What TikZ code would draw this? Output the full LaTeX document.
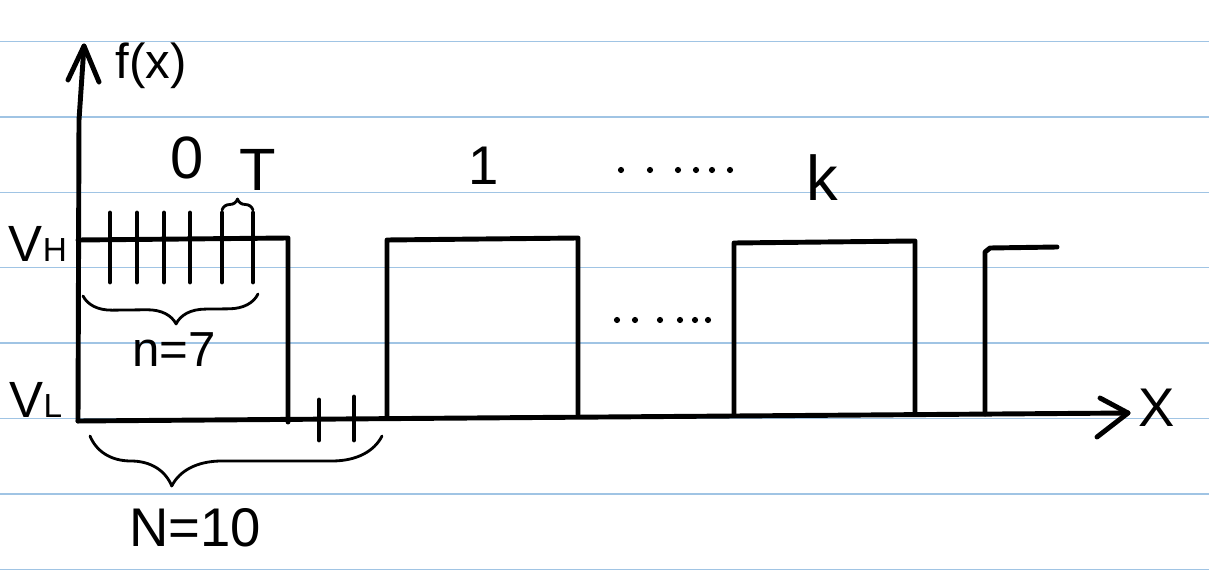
\documentclass[tikz,border=0pt]{standalone}
\usepackage{fontspec}
\setmainfont{Liberation Sans}
\usetikzlibrary{decorations.pathreplacing}
\begin{document}
\begin{tikzpicture}[x=0.02cm,y=-0.02cm,
  pen/.style={line width=2.8pt, line cap=round, line join=round, black},
  thinpen/.style={line width=1.6pt, line cap=round, line join=round, black},
  rule/.style={draw={rgb,255:red,160;green,196;blue,228}, line width=0.7pt},
  lbl/.style={font=\fontsize{31}{31}\selectfont, inner sep=0pt},
  mlbl/.style={font=\fontsize{28}{28}\selectfont, inner sep=0pt},
  dotmark/.style={fill=black, inner sep=0pt, minimum size=3.5pt, circle}]
\useasboundingbox (0,0) rectangle (1209,577);
\fill[white] (0,0) rectangle (1209,577);
\foreach \y in {41.5,116.9,192.3,267.7,343.1,418.5,493.9,569.3}
  \draw[rule] (0,\y) -- (1209,\y);
% axes
\coordinate (O) at (78,421);
\coordinate (ytip) at (84,46);
\coordinate (xtip) at (1128,413);
\draw[pen] (O) -- (79,120) -- (ytip);
\draw[pen] (68,80) -- (ytip) -- (99,82);
\draw[pen] (O) -- (xtip);
\draw[pen] (1100,398) -- (xtip) -- (1097,437);
\node[mlbl, anchor=west] (fx) at (115,66) {f(x)};
\node[lbl, anchor=west] (X) at (1138,408) {X};
\node[lbl, anchor=base, font=\fontsize{29}{29}\selectfont] (VH) at (38,262) {V{\fontsize{19}{19}\selectfont H}};
\node[lbl, anchor=base, font=\fontsize{29}{29}\selectfont] (VL) at (36,417) {V{\fontsize{19}{19}\selectfont L}};
% pulses
\draw[pen] (78,240) -- (288,238) -- (288,422);
\draw[pen] (387,416) -- (387,240) -- (578,238) -- (578,414);
\draw[pen] (734,414) -- (734,243) -- (915,241) -- (915,414);
\draw[pen] (985,414) -- (985,252) -- (990,248) -- (1057,247);
% ticks on pulse 0
\foreach \x in {110,137,164,190,222,253}
  \draw[pen] (\x,213) -- (\x,282);
% ticks in the gap
\draw[pen] (319,400) -- (319,440);
\draw[pen] (354,397) -- (354,440);
% braces
\coordinate (nR) at (258,294);
\coordinate (nL) at (83,296);
\draw[thinpen, decorate, decoration={brace, amplitude=0.58cm, aspect=0.47}] (nR) -- (nL);
\coordinate (NR) at (382,436);
\coordinate (NL) at (90,436);
\draw[thinpen, decorate, decoration={brace, amplitude=1.0cm, aspect=0.72}] (NR) -- (NL);
\coordinate (TL) at (222,210);
\coordinate (TR) at (253,210);
\draw[thinpen, decorate, decoration={brace, amplitude=0.22cm}] (TL) -- (TR);
% labels
\node[lbl, font=\fontsize{34}{34}\selectfont] (l0) at (187,158) {0};
\node[lbl, font=\fontsize{34}{34}\selectfont] (lT) at (258,170) {T};
\node[lbl] (l1) at (484,166) {1};
\node[lbl, font=\fontsize{36}{36}\selectfont] (lk) at (822,178) {k};
\node[mlbl] (ln) at (174,350) {n=7};
\node[lbl] (lN) at (195,528) {N=10};
% dots
\foreach \x in {621,650,678,696,712,730}
  \node[dotmark] at (\x,170) {};
\foreach \x in {617,635,660,680,695,708}
  \node[dotmark] at (\x,320) {};
\end{tikzpicture}
\end{document}
